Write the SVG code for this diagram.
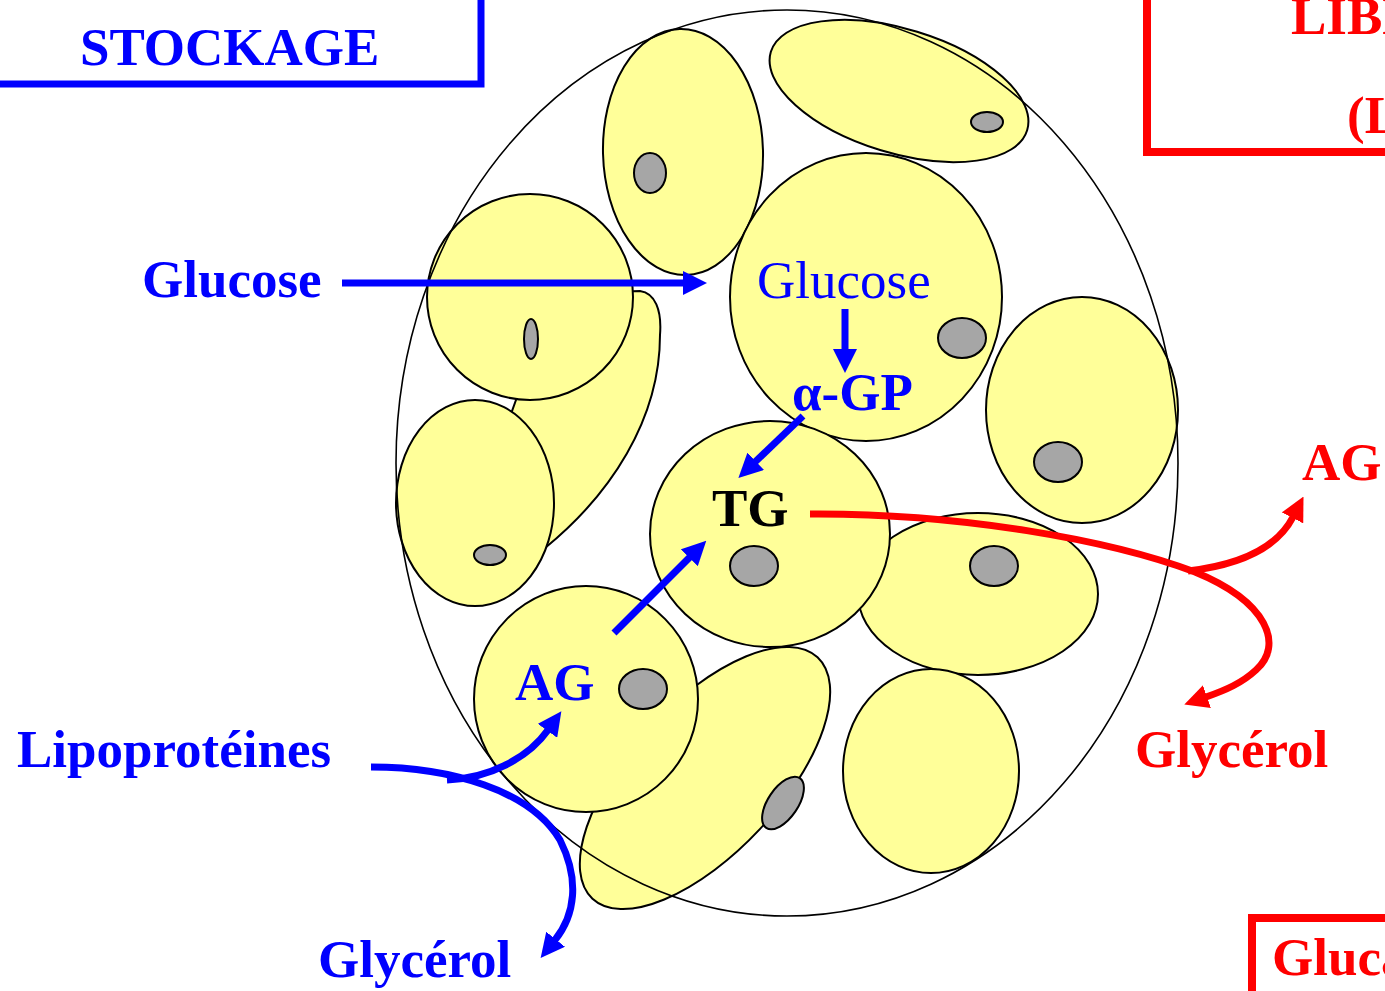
<svg xmlns="http://www.w3.org/2000/svg" width="1385" height="991" viewBox="0 0 1385 991">
  <style>
    .cell { fill: #FFFF99; stroke: #000; stroke-width: 2; }
    .nuc { fill: #A6A6A6; stroke: #000; stroke-width: 2; }
    .tissue { fill: none; stroke: #000; stroke-width: 1.6; }
    .lbl { font-family: "Liberation Serif", "Times New Roman", serif; font-size: 53px; font-weight: bold; }
    .reg { font-weight: normal; }
    .blue { fill: #0000FF; }
    .red { fill: #FF0000; }
    .black { fill: #000; }
    .box-blue { fill: none; stroke: #0000FF; stroke-width: 7; }
    .box-red { fill: none; stroke: #FF0000; stroke-width: 8; }
    .flow-b { fill: none; stroke: #0000FF; stroke-width: 7; marker-end: url(#headBlue); }
    .flow-r { fill: none; stroke: #FF0000; stroke-width: 7; marker-end: url(#headRed); }
  </style>
  <defs>
    <marker id="headBlue" markerUnits="userSpaceOnUse" viewBox="0 0 24 24" markerWidth="24" markerHeight="24" refX="1" refY="12" orient="auto">
      <path d="M0,0 L24,12 L0,24 Z" fill="#0000FF"/>
    </marker>
    <marker id="headRed" markerUnits="userSpaceOnUse" viewBox="0 0 24 24" markerWidth="24" markerHeight="24" refX="1" refY="12" orient="auto">
      <path d="M0,0 L24,12 L0,24 Z" fill="#FF0000"/>
    </marker>
  </defs>

  <rect width="1385" height="991" fill="#fff"/>

  <!-- title boxes (they run past the page edge) -->
  <g id="box-stockage">
    <rect class="box-blue" x="-10" y="-10" width="491" height="94"/>
    <text class="lbl blue" x="80" y="65">STOCKAGE</text>
  </g>
  <g id="box-liberation">
    <rect class="box-red" x="1147" y="-10" width="260" height="162"/>
    <text class="lbl red" x="1291" y="34">LIBERATION</text>
    <text class="lbl red" x="1347" y="133">(LIPOLYSE)</text>
  </g>
  <g id="box-hormone">
    <rect class="box-red" x="1252" y="918" width="160" height="100"/>
    <text class="lbl red" x="1272" y="975">Glucagon</text>
  </g>

  <!-- adipocytes -->
  <g id="cell-tail">
    <path class="cell" d="M610,292 L640,291 C655,293 662,310 660,335 C660,420 610,495 545,548 L480,500 L516,400 L530,380 Z"/>
  </g>
  <g id="cell-lowright">
    <ellipse class="cell" cx="978" cy="594" rx="120" ry="81"/>
    <ellipse class="nuc" cx="994" cy="566" rx="24" ry="20"/>
  </g>
  <g id="cell-bottom-tilted">
    <ellipse class="cell" cx="705" cy="778" rx="165" ry="75" transform="rotate(-47 705 778)"/>
    <ellipse class="nuc" cx="783" cy="803" rx="15" ry="30" transform="rotate(34 783 803)"/>
  </g>
  <g id="cell-top">
    <ellipse class="cell" cx="683" cy="152" rx="80" ry="123" transform="rotate(-1.5 683 152)"/>
    <ellipse class="nuc" cx="650" cy="173" rx="16" ry="20"/>
  </g>
  <g id="cell-topright">
    <ellipse class="cell" cx="899" cy="91" rx="134" ry="62" transform="rotate(17 899 91)"/>
    <ellipse class="nuc" cx="987" cy="122" rx="16" ry="10"/>
  </g>
  <g id="cell-glucose">
    <ellipse class="cell" cx="866" cy="297" rx="136" ry="144"/>
    <ellipse class="nuc" cx="962" cy="338" rx="24" ry="20"/>
  </g>
  <g id="cell-left">
    <ellipse class="cell" cx="530" cy="297" rx="103" ry="103"/>
    <ellipse class="nuc" cx="531" cy="339" rx="7" ry="20"/>
  </g>
  <g id="cell-lowleft">
    <ellipse class="cell" cx="475" cy="503" rx="79" ry="103"/>
    <ellipse class="nuc" cx="490" cy="555" rx="16" ry="10"/>
  </g>
  <g id="cell-right">
    <ellipse class="cell" cx="1082" cy="410" rx="96" ry="113"/>
    <ellipse class="nuc" cx="1058" cy="462" rx="24" ry="20"/>
  </g>
  <g id="cell-bottomright">
    <ellipse class="cell" cx="931" cy="771" rx="88" ry="102"/>
  </g>
  <g id="cell-tg">
    <ellipse class="cell" cx="770" cy="534" rx="120" ry="113"/>
    <ellipse class="nuc" cx="754" cy="566" rx="24" ry="20"/>
  </g>
  <g id="cell-ag">
    <ellipse class="cell" cx="586" cy="699" rx="112" ry="113"/>
    <ellipse class="nuc" cx="643" cy="689" rx="24" ry="20"/>
  </g>

  <!-- tissue outline -->
  <g id="tissue">
    <ellipse class="tissue" cx="787" cy="463" rx="391" ry="453"/>
  </g>

  <!-- labels -->
  <g id="label-glucose-in"><text class="lbl blue" x="142" y="297">Glucose</text></g>
  <g id="label-glucose-cell"><text class="lbl reg blue" x="757" y="298">Glucose</text></g>
  <g id="label-agp"><text class="lbl blue" x="792" y="410">α-GP</text></g>
  <g id="label-tg"><text class="lbl black" x="712" y="526">TG</text></g>
  <g id="label-ag-cell"><text class="lbl blue" x="515" y="700">AG</text></g>
  <g id="label-lipo"><text class="lbl blue" x="17" y="767">Lipoprotéines</text></g>
  <g id="label-glycerol-blue"><text class="lbl blue" x="318" y="977">Glycérol</text></g>
  <g id="label-ag-out"><text class="lbl red" x="1302" y="480">AG</text></g>
  <g id="label-glycerol-red"><text class="lbl red" x="1135" y="767">Glycérol</text></g>

  <!-- connectors -->
  <g id="connectors">
    <path class="flow-b" d="M342,283 L684,283"/>
    <path class="flow-b" d="M845,309 L845,350"/>
    <path class="flow-b" d="M803,416 L755,462"/>
    <path class="flow-b" d="M614,633 L690,557"/>
    <path class="flow-b" d="M371,767 C450,767 530,790 560,840 C580,880 575,915 555,940"/>
    <path class="flow-b" d="M447,780 C490,778 528,758 548,730"/>
    <path class="flow-r" d="M810,514 C960,513 1110,540 1195,572 C1268,602 1284,645 1256,670 C1242,683 1226,690 1206,697"/>
    <path class="flow-r" d="M1188,571 C1230,566 1275,552 1293,517"/>
  </g>
</svg>
